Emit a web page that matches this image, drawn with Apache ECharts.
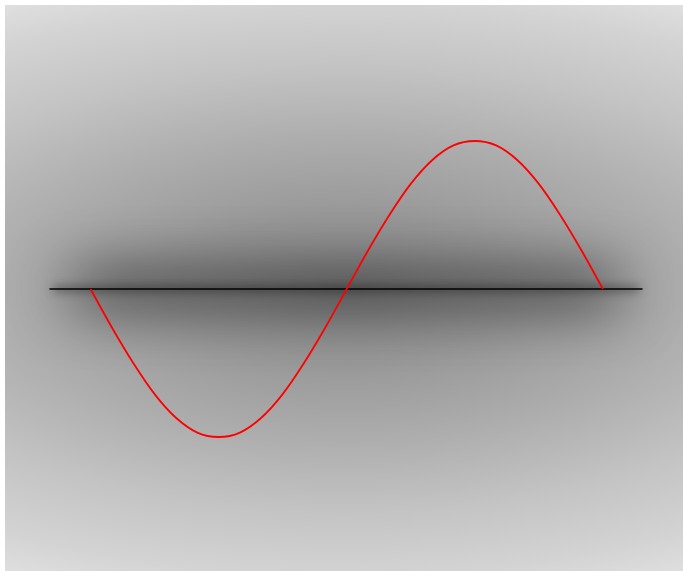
<!DOCTYPE html>
<html>
<head>
<meta charset="utf-8">
<script src="https://cdn.jsdelivr.net/npm/echarts@6/dist/echarts.min.js"></script>
<style>
    html, body { margin: 0; padding: 0; background: #fff; }
    #main { width: 683px; height: 571px; }
</style>
</head>
<body>
<div id="main"></div>
<script>
// 角度 (度) 与读取的曲线值
var angles = [0, 15, 30, 45, 60, 75, 90, 105, 120, 135, 150, 165, 180,
    195, 210, 225, 240, 255, 270, 285, 300, 315, 330, 345, 360];
var waveValues = [0, -0.26, -0.5, -0.71, -0.87, -0.97, -1, -0.97, -0.87, -0.71, -0.5, -0.26, 0,
    0.26, 0.5, 0.71, 0.87, 0.97, 1, 0.97, 0.87, 0.71, 0.5, 0.26, 0];
var xRange = [-28.5, 387.5];
var yRange = [-1, 1];

window.onload = function () {
    var chart = echarts.init(document.getElementById('main'));

    var waveData = angles.map(function (a, i) {
        return [a, waveValues[i]];
    });

    // 背景: 椭圆径向渐变
    var bgScale = 0.441;
    var bgRect = {
        type: 'rect',
        id: 'bg',
        x: 5,
        y: 5,
        scaleY: bgScale,
        z: -10,
        silent: true,
        shape: { x: 0, y: 0, width: 678, height: 566 / bgScale },
        style: {
            fill: {
                type: 'radial',
                x: 341,
                y: 284 / bgScale,
                r: 748,
                global: true,
                colorStops: [
                    { offset: 0, color: '#888888' },
                    { offset: 0.227, color: '#989898' },
                    { offset: 0.4545, color: '#adadad' },
                    { offset: 0.68, color: '#c4c4c4' },
                    { offset: 0.864, color: '#d3d3d3' },
                    { offset: 1, color: '#e2e2e2' }
                ]
            }
        }
    };

    var option = {
        backgroundColor: '#fff',
        animation: false,
        grid: {
            left: 50,
            right: 41,
            top: 141,
            bottom: 134
        },
        xAxis: {
            type: 'value',
            min: xRange[0],
            max: xRange[1],
            axisLine: {
                show: true,
                onZero: true,
                lineStyle: { color: '#000', width: 1.5 }
            },
            axisTick: { show: false },
            axisLabel: { show: false },
            splitLine: { show: false }
        },
        yAxis: {
            type: 'value',
            min: yRange[0],
            max: yRange[1],
            show: false
        },
        graphic: [bgRect],
        series: [{
            type: 'line',
            data: waveData,
            smooth: 0.3,
            symbol: 'none',
            lineStyle: { color: '#f00', width: 1.8 }
        }]
    };
    chart.setOption(option);

    // 轴线阴影 (只画阴影, 线条本身放到画布外)
    var p0 = chart.convertToPixel({ gridIndex: 0 }, [xRange[0], 0]);
    var p1 = chart.convertToPixel({ gridIndex: 0 }, [xRange[1], 0]);
    var off = 3000;
    chart.setOption({
        graphic: [bgRect, {
            type: 'line',
            id: 'glowWide',
            z: -5,
            silent: true,
            shape: { x1: p0[0] + 22, y1: p0[1] - off, x2: p1[0] - 22, y2: p1[1] - off },
            style: {
                stroke: '#000',
                lineWidth: 22,
                shadowBlur: 60,
                shadowColor: 'rgba(0,0,0,1)',
                shadowOffsetY: off
            }
        }, {
            type: 'line',
            id: 'glowCore',
            z: -4,
            silent: true,
            shape: { x1: p0[0] + 3, y1: p0[1] - off, x2: p1[0] - 3, y2: p1[1] - off },
            style: {
                stroke: '#000',
                lineWidth: 3,
                shadowBlur: 10,
                shadowColor: 'rgba(0,0,0,0.8)',
                shadowOffsetY: off
            }
        }]
    });
};
</script>
</body>
</html>
